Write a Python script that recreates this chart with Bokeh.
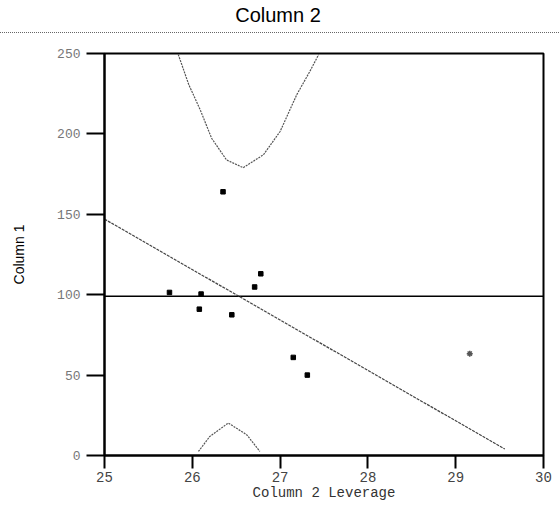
from bokeh.plotting import figure
from bokeh.layouts import column
from bokeh.models import Range1d, Div
from bokeh.embed import file_html
from bokeh.resources import INLINE

# ---- texts ----
title_text = "Column 2"
x_label = "Column 2 Leverage"
y_label = "Column 1"
x_ticks = [25, 26, 27, 28, 29, 30]
y_ticks = [0, 50, 100, 150, 200, 250]

# ---- data points (leverage x, response y) ----
pts_x = [26.35, 25.74, 26.10, 26.08, 26.45, 26.71, 26.78, 27.15, 27.31]
pts_y = [164.0, 101.4, 100.4, 91.0, 87.5, 104.8, 113.0, 61.0, 50.0]
outlier_x = [29.16]
outlier_y = [63.3]

# ---- fitted line and mean line ----
fit_x = [25.0, 29.56]
fit_y = [147.0, 4.0]
mean_x = [25.0, 30.0]
mean_y = [99.0, 99.0]

# ---- confidence curves ----
upper_x = [25.84, 25.96, 26.09, 26.22, 26.39, 26.58, 26.81, 27.00, 27.19, 27.34, 27.44]
upper_y = [249.4, 230.6, 215.0, 197.3, 183.8, 179.0, 187.0, 201.5, 224.4, 239.0, 249.4]
lower_x = [26.07, 26.20, 26.41, 26.62, 26.77]
lower_y = [2.5, 11.9, 20.2, 12.9, 2.5]

W = 559

# ---- header: title + dotted rule ----
header_html = (
    '<div style="position:relative;width:559px;height:43px;">'
    '<div style="position:absolute;left:0;top:4px;width:556px;text-align:center;line-height:23px;'
    "font-family:'Liberation Sans',Arial,sans-serif;font-size:20px;color:#000;\">"
    + title_text +
    '</div>'
    '<div style="position:absolute;left:0;top:32px;width:559px;height:0;'
    'border-top:1px dotted #666;"></div>'
    '</div>'
)
header = Div(text=header_html, width=W, height=43, margin=0)

# ---- main figure ----
p = figure(width=W, height=480, x_range=Range1d(25, 30), y_range=Range1d(0, 250),
           toolbar_location=None, output_backend="svg",
           min_border_left=104, min_border_right=16, min_border_top=10, min_border_bottom=68)
p.grid.visible = False
p.outline_line_color = "black"
p.outline_line_width = 2
p.outline_line_alpha = 1.0

p.xaxis.ticker = x_ticks
p.yaxis.ticker = y_ticks
for ax in (p.xaxis[0], p.yaxis[0]):
    ax.axis_line_color = "black"
    ax.axis_line_width = 2
    ax.major_tick_line_color = "black"
    ax.major_tick_line_width = 2
    ax.major_tick_in = 0
    ax.minor_tick_line_color = None
    ax.major_label_text_font = "Liberation Mono"
    ax.major_label_text_font_size = "14px"
    ax.major_label_text_color = "#444444"
    ax.axis_label_text_font_style = "normal"

p.xaxis.major_tick_out = 13
p.xaxis.major_label_standoff = 3
p.xaxis.axis_label = x_label
p.xaxis.axis_label_text_font = "Liberation Mono"
p.xaxis.axis_label_text_font_size = "14px"
p.xaxis.axis_label_text_color = "#333333"
p.xaxis.axis_label_standoff = 0

p.yaxis.major_tick_out = 18
p.yaxis.major_label_standoff = 6
p.yaxis.major_label_text_font_size = "13px"
p.yaxis.major_label_text_color = "#777777"
p.yaxis.axis_label = y_label
p.yaxis.axis_label_text_font = "Liberation Sans"
p.yaxis.axis_label_text_font_size = "14px"
p.yaxis.axis_label_text_color = "black"
p.yaxis.axis_label_standoff = 27

# lines
p.line(mean_x, mean_y, line_color="black", line_width=1.5)
p.line(fit_x, fit_y, line_color="#444444", line_width=1.2, line_dash="3 1")
p.line(upper_x, upper_y, line_color="#555555", line_width=1.2, line_dash="2 1")
p.line(lower_x, lower_y, line_color="#555555", line_width=1.2, line_dash="2 1")

# points
p.scatter(pts_x, pts_y, marker="square", size=4.5, color="black")
p.scatter(outlier_x, outlier_y, marker="asterisk", size=6, line_color="#555555", line_width=1.5)

layout = column(header, p, spacing=0)
open("out.html", "w").write(file_html(layout, INLINE))
